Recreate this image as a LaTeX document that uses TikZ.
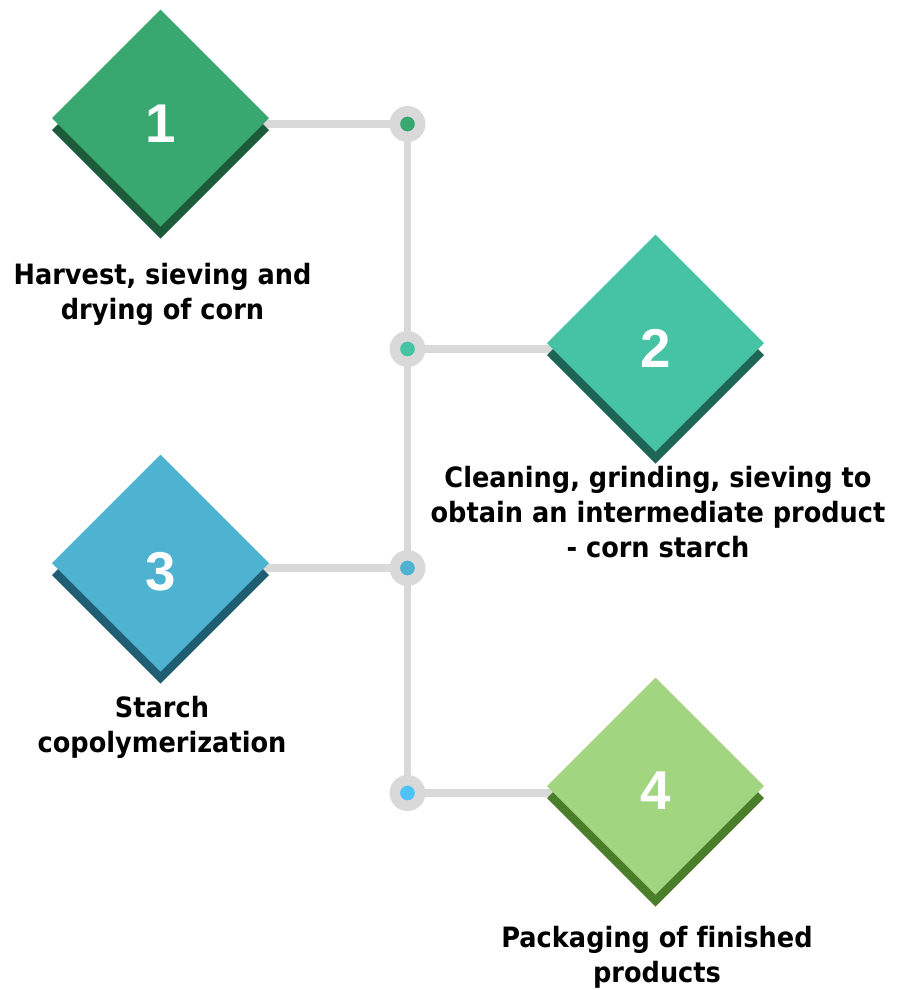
\documentclass[tikz,border=0pt]{standalone}
\usepackage{fontspec}
\usetikzlibrary{shapes.geometric}
\newfontfamily\labfont{DejaVu Sans}[Ligatures=NoCommon, FakeStretch=0.915]
\newfontfamily\numfont{Liberation Sans}
\definecolor{linegray}{HTML}{D9D9D9}
\definecolor{cA}{HTML}{38A870}
\definecolor{cAs}{HTML}{1B5B3A}
\definecolor{cB}{HTML}{46C2A4}
\definecolor{cBs}{HTML}{1D6655}
\definecolor{cC}{HTML}{4EB3D0}
\definecolor{cCs}{HTML}{1F5E72}
\definecolor{cD}{HTML}{A1D57F}
\definecolor{cDs}{HTML}{4A7E2A}
\definecolor{cDot}{HTML}{4FC3F7}
\pgfdeclarelayer{bg}
\pgfsetlayers{bg,main}
\begin{document}
\begin{tikzpicture}[x=0.75pt,y=-0.75pt,
  dia/.style={diamond, aspect=1, inner sep=0pt, outer sep=0pt, minimum width=162.75pt, minimum height=162.75pt},
  conn/.style={draw=linegray, line width=5.6pt},
  ring/.style={circle, fill=linegray, minimum size=27pt, inner sep=0pt},
  core/.style={circle, minimum size=11pt, inner sep=0pt},
  num/.style={font=\numfont\bfseries\fontsize{41}{41}\selectfont, text=white, anchor=base},
  lab/.style={font=\labfont\bfseries\fontsize{21}{25.9}\selectfont, align=center, anchor=base, inner sep=0pt}
]
\useasboundingbox (0,0) rectangle (900,990);

% diamonds with shadows
\node[dia, fill=cAs] (d1s) at (160.5,130) {};
\node[dia, fill=cA]  (d1)  at (160.5,118) {};
\node[dia, fill=cBs] (d2s) at (655.5,355) {};
\node[dia, fill=cB]  (d2)  at (655.5,343) {};
\node[dia, fill=cCs] (d3s) at (160.5,575) {};
\node[dia, fill=cC]  (d3)  at (160.5,563) {};
\node[dia, fill=cDs] (d4s) at (655.5,798) {};
\node[dia, fill=cD]  (d4)  at (655.5,786) {};

% numbers
\node[num] (n1) at (160.5,142) {1};
\node[num] (n2) at (655.5,367) {2};
\node[num] (n3) at (160.5,590) {3};
\node[num] (n4) at (655.5,809) {4};

% timeline points
\node[ring] (p1) at (407.5,124) {};
\node[ring] (p2) at (407.5,349) {};
\node[ring] (p3) at (407.5,568) {};
\node[ring] (p4) at (407.5,793) {};
\node[core, fill=cA]   (q1) at (p1) {};
\node[core, fill=cB]   (q2) at (p2) {};
\node[core, fill=cC]   (q3) at (p3) {};
\node[core, fill=cDot] (q4) at (p4) {};

% connectors
\begin{pgfonlayer}{bg}
\draw[conn] (p1.center) -- (p4.center);
\draw[conn] (p1.center) -- (p1 -| d1.center);
\draw[conn] (p2.center) -- (p2 -| d2.center);
\draw[conn] (p3.center) -- (p3 -| d3.center);
\draw[conn] (p4.center) -- (p4 -| d4.center);
\end{pgfonlayer}

% labels (anchor base = baseline of last line)
\node[lab] (l1) at (162.5,319) {Harvest, sieving and\\drying of corn};
\node[lab] (l2) at (658,557) {Cleaning, grinding, sieving to\\obtain an intermediate product\\- corn starch};
\node[lab] (l3) at (162,752) {Starch\\copolymerization};
\node[lab] (l4) at (657,982) {Packaging of finished\\products};
\end{tikzpicture}
\end{document}
